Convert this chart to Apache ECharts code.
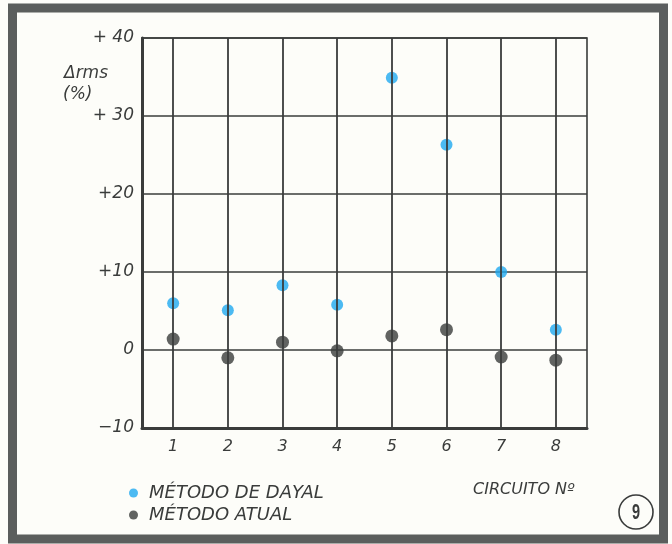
<!DOCTYPE html>
<html>
<head>
<meta charset="utf-8">
<script src="https://cdn.jsdelivr.net/npm/echarts@6/dist/echarts.min.js"></script>
<style>
  html, body { margin: 0; padding: 0; background: #fdfdf9; }
  #chart { width: 672px; height: 544px; }
</style>
</head>
<body>
<div id="chart"></div>
<script>
// Circuit numbers on the horizontal axis
const circuits = [1, 2, 3, 4, 5, 6, 7, 8];
// Δrms (%) per circuit, Dayal's method
const dayal = [6.0, 5.1, 8.3, 5.8, 34.9, 26.3, 10.0, 2.6];
// Δrms (%) per circuit, current method
const atual = [1.4, -1.0, 1.0, -0.1, 1.8, 2.6, -0.9, -1.3];
// Vertical axis tick values and their printed labels
const yTicks = [-10, 0, 10, 20, 30, 40];
const yTickLabels = ['−10', '0', '+10', '+20', '+ 30', '+ 40'];

const ink = '#3a3c3b';
const blue = '#1fa9f0';
const font = '"DejaVu Sans", "Liberation Sans", sans-serif';

const chart = echarts.init(document.getElementById('chart'), null, { renderer: 'canvas' });

chart.setOption({
  backgroundColor: '#fdfdf9',
  animation: false,
  grid: {
    left: 142, right: 85, top: 38, bottom: 116,
    show: true, borderColor: ink, borderWidth: 1.6, backgroundColor: 'transparent'
  },
  legend: {
    orient: 'vertical',
    left: 124, top: 479,
    itemWidth: 9, itemHeight: 9, itemGap: 4,
    icon: 'circle',
    textStyle: { color: ink, fontFamily: font, fontStyle: 'italic', fontSize: 18, padding: [0, 0, 0, 6] },
    data: ['MÉTODO DE DAYAL', 'MÉTODO ATUAL']
  },
  xAxis: {
    type: 'value',
    min: 0.43, max: 8.57,
    axisLine: { show: true, onZero: false, lineStyle: { color: ink, width: 3 } },
    axisTick: { show: false, customValues: circuits },
    axisLabel: {
      customValues: circuits,
      color: ink, fontFamily: font, fontStyle: 'italic', fontSize: 16, margin: 11
    },
    splitLine: { show: false }
  },
  yAxis: {
    type: 'value',
    min: yTicks[0], max: yTicks[yTicks.length - 1], interval: 10,
    axisLine: { show: true, onZero: false, lineStyle: { color: ink, width: 3 } },
    axisTick: { show: false },
    axisLabel: {
      color: ink, fontFamily: font, fontStyle: 'italic', fontSize: 17, margin: 8,
      formatter: v => yTickLabels[yTicks.indexOf(v)]
    },
    splitLine: { show: true, lineStyle: { color: ink, width: 1.6 } }
  },
  series: [
    {
      name: 'MÉTODO DE DAYAL',
      type: 'scatter',
      symbol: 'circle',
      symbolSize: 12,
      itemStyle: { color: blue },
      data: circuits.map((c, i) => [c, dayal[i]]),
      z: 4,
      markLine: {
        silent: true,
        symbol: 'none',
        label: { show: false },
        lineStyle: { color: ink, width: 1.8, type: 'solid' },
        data: circuits.map(c => ({ xAxis: c }))
      }
    },
    {
      name: 'MÉTODO ATUAL',
      type: 'scatter',
      symbol: 'circle',
      symbolSize: 13,
      itemStyle: { color: ink },
      data: circuits.map((c, i) => [c, atual[i]]),
      z: 4
    }
  ],
  graphic: [
    {
      type: 'rect', silent: true, z: 10,
      shape: { x: 12.5, y: 8, width: 651, height: 531 },
      style: { fill: 'none', stroke: '#5b5e5d', lineWidth: 9 }
    },
    {
      type: 'text', left: 64, top: 65,
      style: { text: 'Δrms', fill: ink, font: 'italic 17px ' + font }
    },
    {
      type: 'text', left: 63, top: 86,
      style: { text: '(%)', fill: ink, font: 'italic 17px ' + font }
    },
    {
      type: 'text', left: 473, top: 482,
      style: { text: 'CIRCUITO Nº', fill: ink, font: 'italic 16px ' + font }
    },
    {
      type: 'circle',
      shape: { cx: 636, cy: 512, r: 17 },
      style: { fill: 'none', stroke: ink, lineWidth: 1.6 }
    },
    {
      type: 'text', x: 636, y: 513, scaleX: 0.66,
      style: {
        text: '9', fill: ink, align: 'center', verticalAlign: 'middle',
        font: 'bold 22px "Liberation Sans", sans-serif'
      }
    }
  ]
});
</script>
</body>
</html>
